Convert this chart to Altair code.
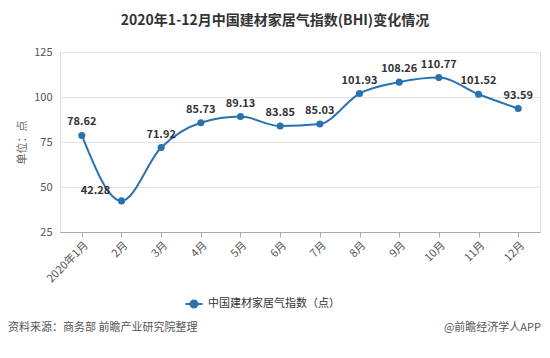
import altair as alt
import pandas as pd

months = ["2020年1月", "2月", "3月", "4月", "5月", "6月", "7月", "8月", "9月", "10月", "11月", "12月"]
values = [78.62, 42.28, 71.92, 85.73, 89.13, 83.85, 85.03, 101.93, 108.26, 110.77, 101.52, 93.59]
series_name = "中国建材家居气指数（点）"
y_ticks = [25, 50, 75, 100, 125]

df = pd.DataFrame({"month": months, "value": values, "series": [series_name] * len(months)})
df["label"] = [f"{v:.2f}" for v in values]

color = "#2a72ad"
x_enc = alt.X("month:N", sort=months, title=None,
              scale=alt.Scale(type="point", padding=0.55),
              axis=alt.Axis(labelAngle=315, labelColor="#555", labelFontSize=11,
                            domainColor="#aaa", tickColor="#aaa", tickSize=5,
                            labelPadding=2, grid=False))
y_enc = alt.Y("value:Q", title="单位：点",
              scale=alt.Scale(domain=[25, 125], nice=False, zero=False),
              axis=alt.Axis(values=y_ticks, labelColor="#555", labelFontSize=11,
                            titleColor="#666", titleFontSize=11, titleFontWeight="normal",
                            titlePadding=6, domain=False, ticks=False, gridColor="#e3e3e3",
                            labelPadding=8))

legend_symbol = "M-1.7,0 L1.7,0 M0.7,0 A0.7,0.7 0 1,1 -0.7,0 A0.7,0.7 0 1,1 0.7,0 Z"

line = alt.Chart(df).mark_line(interpolate="monotone", strokeWidth=2).encode(
    x=x_enc, y=y_enc,
    color=alt.Color("series:N", scale=alt.Scale(range=[color]),
                    legend=alt.Legend(title=None, orient="none", legendX=128, legendY=246,
                                      symbolType=legend_symbol, symbolSize=100,
                                      symbolStrokeWidth=2, symbolFillColor=color,
                                      labelFontSize=11, labelColor="#333", labelOffset=8,
                                      labelFont="Noto Sans CJK SC")))
points = alt.Chart(df).mark_point(filled=True, size=50, opacity=1, color=color).encode(x=x_enc, y=y_enc)
labels = alt.Chart(df).transform_filter(alt.datum.month != "2月").mark_text(
    dy=-13, fontSize=11, fontWeight="bold", color="#333").encode(x=x_enc, y=y_enc, text="label:N")
label_feb = alt.Chart(df).transform_filter(alt.datum.month == "2月").mark_text(
    dx=-26, dy=-10, fontSize=11, fontWeight="bold", color="#333").encode(x=x_enc, y=y_enc, text="label:N")

notes = pd.DataFrame({"t": ["资料来源：商务部 前瞻产业研究院整理"]})
note_left = alt.Chart(notes).mark_text(align="left", fontSize=11, color="#555").encode(
    x=alt.value(-52), y=alt.value(276), text="t:N")
notes2 = pd.DataFrame({"t": ["@前瞻经济学人APP"]})
note_right = alt.Chart(notes2).mark_text(align="right", fontSize=11, color="#555").encode(
    x=alt.value(481), y=alt.value(276), text="t:N")

chart = alt.layer(line, points, labels, label_feb, note_left, note_right).properties(
    width=480, height=180,
    title=alt.TitleParams("2020年1-12月中国建材家居气指数(BHI)变化情况", fontSize=14,
                          fontWeight="bold", color="#333", offset=18, dx=-25, anchor="middle"),
    autosize=alt.AutoSizeParams(type="none"),
    padding={"left": 52, "top": 44, "right": 2, "bottom": 118},
).configure_view(stroke=None).configure(font="Noto Sans CJK SC")

chart.save("out.html", embed_options={"renderer": "svg", "actions": False})
